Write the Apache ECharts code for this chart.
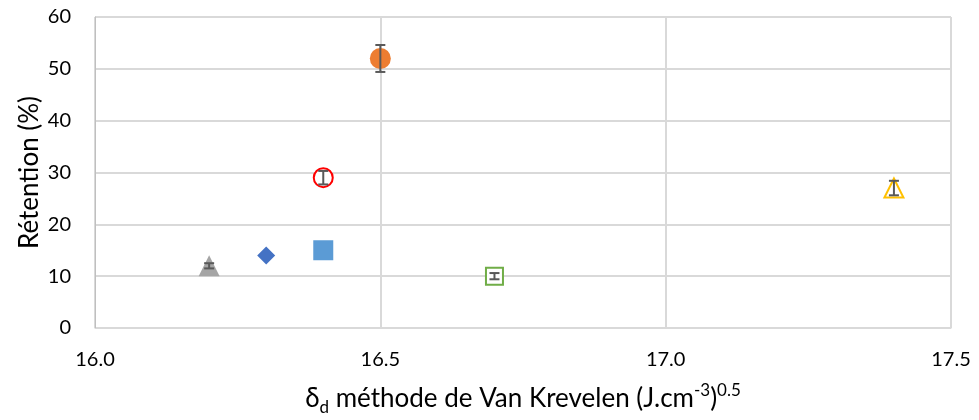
<!DOCTYPE html>
<html><head><meta charset="utf-8">
<script src="https://cdn.jsdelivr.net/npm/echarts@6/dist/echarts.min.js"></script>
<style>html,body{margin:0;padding:0;background:#fff}#c{width:979px;height:420px}</style>
</head><body><div id="c"></div>
<script>
var xVals = [16.2, 16.3, 16.4, 16.4, 16.5, 16.7, 17.4];
var yVals = [12, 14, 15, 29, 52, 10, 27];
var errVals = [0.5, 0, 0, 1.3, 2.6, 0.6, 1.4];
var symbols = ['triangle', 'diamond', 'rect', 'circle', 'circle', 'rect', 'triangle'];
var fills = ['#a5a5a5', '#4472c4', '#5b9bd5', '#ffffff', '#ed7d31', '#ffffff', '#ffffff'];
var strokes = ['#a5a5a5', '#4472c4', '#5b9bd5', '#ff0000', '#ed7d31', '#70ad47', '#ffc000'];
var sizes = [21, 18, 20, 19, 21, 17, 19];
var xTicks = [16.0, 16.5, 17.0, 17.5];
var yTicks = [0, 10, 20, 30, 40, 50, 60];

var font = 'Lato, "Open Sans", sans-serif';
var series = [];
for (var i = 0; i < xVals.length; i++) {
  series.push({
    type: 'scatter',
    symbol: symbols[i],
    symbolSize: sizes[i],
    data: [[xVals[i], yVals[i]]],
    itemStyle: { color: fills[i], borderColor: strokes[i], borderWidth: fills[i] === '#ffffff' ? 2 : 0, opacity: 1 },
    z: 3
  });
}
var errData = [];
for (var j = 0; j < xVals.length; j++) {
  if (errVals[j] > 0) errData.push([xVals[j], yVals[j], errVals[j]]);
}
series.push({
  type: 'custom',
  z: 10,
  data: errData,
  renderItem: function (params, api) {
    var x = api.value(0), y = api.value(1), e = api.value(2);
    var top = api.coord([x, y + e]);
    var bot = api.coord([x, y - e]);
    var w = 5;
    var st = { stroke: '#595959', lineWidth: 2 };
    return {
      type: 'group',
      children: [
        { type: 'line', shape: { x1: top[0], y1: top[1], x2: bot[0], y2: bot[1] }, style: st },
        { type: 'line', shape: { x1: top[0] - w, y1: top[1], x2: top[0] + w, y2: top[1] }, style: st },
        { type: 'line', shape: { x1: bot[0] - w, y1: bot[1], x2: bot[0] + w, y2: bot[1] }, style: st }
      ]
    };
  }
});

var chart = echarts.init(document.getElementById('c'));
chart.setOption({
  animation: false,
  backgroundColor: '#fff',
  grid: { left: 95, right: 28, top: 17, bottom: 92, outerBoundsMode: 'none', containLabel: false },
  xAxis: {
    type: 'value', min: xTicks[0], max: xTicks[xTicks.length - 1], interval: 0.5,
    axisLine: { show: true, lineStyle: { color: '#d9d9d9', width: 1 } },
    axisTick: { show: false },
    splitLine: { show: true, lineStyle: { color: '#d9d9d9', width: 2 } },
    axisLabel: { color: '#000', fontSize: 20, fontFamily: font, margin: 22,
      formatter: function (v) { return v.toFixed(1); } },
    name: '{a|δ}{sub|d}{a| méthode de Van Krevelen (J.cm}{sup|-3}{a|)}{sup|0.5}',
    nameLocation: 'middle', nameGap: 54,
    nameTextStyle: {
      fontFamily: font, color: '#000', fontSize: 26,
      rich: {
        a: { fontSize: 26, fontFamily: font, color: '#000', lineHeight: 34 },
        sub: { fontSize: 17, fontFamily: font, color: '#000', verticalAlign: 'bottom', lineHeight: 19 },
        sup: { fontSize: 17, fontFamily: font, color: '#000', verticalAlign: 'top', lineHeight: 22 }
      }
    }
  },
  yAxis: {
    type: 'value', min: yTicks[0], max: yTicks[yTicks.length - 1], interval: 10,
    axisLine: { show: true, lineStyle: { color: '#bfbfbf', width: 1 } },
    axisTick: { show: false },
    splitLine: { show: true, lineStyle: { color: '#d9d9d9', width: 2 } },
    axisLabel: { color: '#000', fontSize: 20, fontFamily: font, margin: 24 },
    name: 'Rétention (%)', nameLocation: 'middle', nameGap: 52, nameMoveOverlap: false,
    nameTextStyle: { fontSize: 26, fontFamily: font, color: '#000' }
  },
  series: series
});
</script></body></html>
